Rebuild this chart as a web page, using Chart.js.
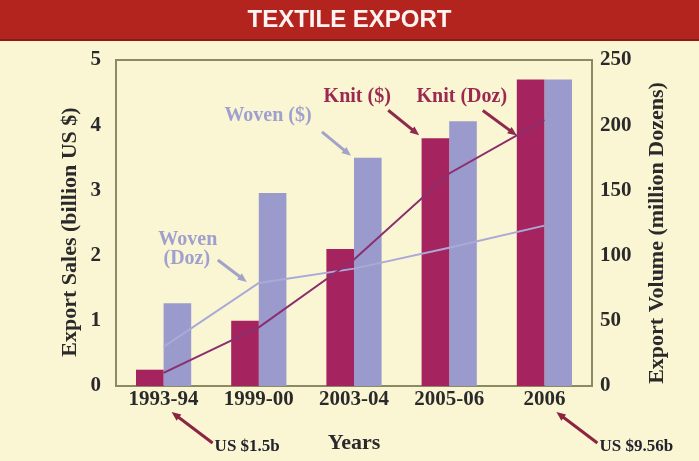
<!DOCTYPE html>
<html>
<head>
<meta charset="utf-8">
<script src="https://cdn.jsdelivr.net/npm/chart.js@4.4.1/dist/chart.umd.min.js"></script>
<style>
  html, body { margin: 0; padding: 0; background: #faf6d4; }
  #wrap { width: 699px; height: 461px; }
</style>
</head>
<body>
<div id="wrap"><canvas id="textile" width="699" height="461"></canvas></div>
<script>
// values
const years = ["1993-94", "1999-00", "2003-04", "2005-06", "2006"];
const knitSales = [0.25, 1.0, 2.1, 3.8, 4.7];      // billion US $
const wovenSales = [1.27, 2.96, 3.5, 4.06, 4.7];   // billion US $
const knitDozens = [10, 45, 97, 163, 204];         // million dozens
const wovenDozens = [30, 79, 90, 106, 123];        // million dozens
const salesTicks = [0, 1, 2, 3, 4, 5];
const volumeTicks = [0, 50, 100, 150, 200, 250];

const cream = "#faf6d4";
const knitColor = "#a5235f";
const wovenColor = "#9a9acc";
const serif = "'Liberation Serif', 'DejaVu Serif', serif";
const inkColor = "#2a2a2a";

function arrow(ctx, x1, y1, x2, y2, color, w) {
  const a = Math.atan2(y2 - y1, x2 - x1);
  const hl = 10;
  ctx.save();
  ctx.strokeStyle = color;
  ctx.fillStyle = color;
  ctx.lineWidth = w;
  ctx.beginPath();
  ctx.moveTo(x1, y1);
  ctx.lineTo(x2 - Math.cos(a) * hl * 0.7, y2 - Math.sin(a) * hl * 0.7);
  ctx.stroke();
  ctx.beginPath();
  ctx.moveTo(x2, y2);
  ctx.lineTo(x2 - hl * Math.cos(a - 0.4), y2 - hl * Math.sin(a - 0.4));
  ctx.lineTo(x2 - hl * Math.cos(a + 0.4), y2 - hl * Math.sin(a + 0.4));
  ctx.closePath();
  ctx.fill();
  ctx.restore();
}

function sideTitle(ctx, text, x, y) {
  ctx.save();
  ctx.translate(x, y);
  ctx.rotate(-Math.PI / 2);
  ctx.font = "bold 22px " + serif;
  ctx.fillStyle = inkColor;
  ctx.textAlign = "center";
  ctx.textBaseline = "middle";
  ctx.fillText(text, 0, 0);
  ctx.restore();
}

const decor = {
  id: "decor",
  beforeDraw(chart) {
    const ctx = chart.ctx;
    ctx.save();
    ctx.fillStyle = cream;
    ctx.fillRect(0, 0, chart.width, chart.height);
    // red header band
    ctx.fillStyle = "#b3241f";
    ctx.fillRect(0, 0, chart.width, 41);
    ctx.fillStyle = "#8a1b16";
    ctx.fillRect(0, 39, chart.width, 2);
    ctx.restore();
  },
  beforeDatasetsDraw(chart) {
    const {ctx, chartArea: a} = chart;
    ctx.save();
    ctx.strokeStyle = "#8c8a62";
    ctx.lineWidth = 2;
    ctx.strokeRect(a.left, a.top, a.right - a.left, a.bottom - a.top);
    ctx.restore();
  },
  afterDatasetsDraw(chart) {
    const ctx = chart.ctx;
    const x = chart.scales.x, yL = chart.scales.ySales, yR = chart.scales.yVolume;

    // both axis titles read bottom to top
    sideTitle(ctx, "Export Sales (billion US $)", 70, 232);
    sideTitle(ctx, "Export Volume (million Dozens)", 657, 233);

    ctx.save();
    ctx.textBaseline = "middle";
    ctx.textAlign = "center";
    ctx.font = "bold 20px " + serif;

    // Woven ($)
    let tx = x.getPixelForValue(2) - 3, ty = yL.getPixelForValue(wovenSales[2]) - 2;
    arrow(ctx, tx - 29, ty - 24, tx, ty, "#a3a3c8", 3);
    ctx.fillStyle = "#a0a0cf";
    ctx.fillText("Woven ($)", tx - 83, ty - 40);

    // Knit ($)
    tx = x.getPixelForValue(3) - 30; ty = yL.getPixelForValue(knitSales[3]) - 3;
    arrow(ctx, tx - 31, ty - 25, tx, ty, "#8e2a4a", 3);
    ctx.fillStyle = "#9b2950";
    ctx.fillText("Knit ($)", tx - 62, ty - 38);

    // Knit (Doz), pointing at the line between 2005-06 and 2006
    const k1x = x.getPixelForValue(3), k1y = yR.getPixelForValue(knitDozens[3]);
    const k2x = x.getPixelForValue(4), k2y = yR.getPixelForValue(knitDozens[4]);
    tx = k1x + (k2x - k1x) * 0.71; ty = k1y + (k2y - k1y) * 0.71;
    arrow(ctx, tx - 34, ty - 25, tx, ty, "#8e2a4a", 3);
    ctx.fillStyle = "#9b2950";
    ctx.fillText("Knit (Doz)", tx - 55, ty - 39);

    // Woven (Doz)
    tx = x.getPixelForValue(1) - 12; ty = yR.getPixelForValue(wovenDozens[1]) - 1;
    arrow(ctx, tx - 29, ty - 22, tx, ty, "#a3a3c8", 3);
    ctx.fillStyle = "#a0a0cf";
    ctx.fillText("Woven", tx - 59, ty - 42);
    ctx.fillText("(Doz)", tx - 60, ty - 23);

    // totals under the first and last years
    ctx.font = "bold 17px " + serif;
    ctx.textAlign = "left";
    ctx.fillStyle = "#23232e";
    tx = x.getPixelForValue(0) + 8; ty = 412;
    arrow(ctx, tx + 41, ty + 31, tx, ty, "#8c2440", 3);
    ctx.fillText("US $1.5b", tx + 43, ty + 35);
    tx = x.getPixelForValue(4) + 12;
    arrow(ctx, tx + 41, ty + 31, tx, ty, "#8c2440", 3);
    ctx.fillText("US $9.56b", tx + 43, ty + 35);
    ctx.restore();
  }
};

new Chart(document.getElementById("textile"), {
  type: "bar",
  data: {
    labels: years,
    datasets: [
      {
        label: "Knit (Doz)",
        type: "line",
        data: knitDozens,
        yAxisID: "yVolume",
        borderColor: "#8b2e6e",
        borderWidth: 2,
        pointRadius: 0,
        tension: 0,
        order: 0
      },
      {
        label: "Woven (Doz)",
        type: "line",
        data: wovenDozens,
        yAxisID: "yVolume",
        borderColor: "#aaaad8",
        borderWidth: 2,
        pointRadius: 0,
        tension: 0,
        order: 0
      },
      {
        label: "Knit ($)",
        data: knitSales,
        yAxisID: "ySales",
        backgroundColor: knitColor,
        borderWidth: 0,
        barPercentage: 1,
        categoryPercentage: 0.58,
        order: 1
      },
      {
        label: "Woven ($)",
        data: wovenSales,
        yAxisID: "ySales",
        backgroundColor: wovenColor,
        borderWidth: 0,
        barPercentage: 1,
        categoryPercentage: 0.58,
        order: 1
      }
    ]
  },
  options: {
    responsive: false,
    animation: false,
    layout: { padding: 0 },
    plugins: {
      legend: { display: false },
      tooltip: { enabled: false },
      title: {
        display: true,
        text: "TEXTILE EXPORT",
        color: "#fff4f2",
        font: { family: "'Liberation Sans', Arial, sans-serif", size: 24, weight: "bold" },
        padding: { top: 5.6, bottom: 25.6 }
      }
    },
    scales: {
      x: {
        grid: { display: false, drawTicks: false },
        border: { display: false },
        ticks: { color: inkColor, padding: 1, font: { family: serif, size: 21, weight: "bold" } },
        title: {
          display: true,
          text: "Years",
          color: inkColor,
          font: { family: serif, size: 22, weight: "bold" },
          padding: { top: 4, bottom: 4 }
        },
        afterFit(scale) { scale.height = 75; }
      },
      ySales: {
        position: "left",
        min: salesTicks[0],
        max: salesTicks[salesTicks.length - 1],
        grid: { display: false, drawTicks: false },
        border: { display: false },
        ticks: { stepSize: salesTicks[1] - salesTicks[0], color: inkColor, padding: 15,
                 font: { family: serif, size: 21, weight: "bold" } },
        afterFit(scale) { scale.width = 116; }
      },
      yVolume: {
        position: "right",
        min: volumeTicks[0],
        max: volumeTicks[volumeTicks.length - 1],
        grid: { display: false, drawTicks: false },
        border: { display: false },
        ticks: { stepSize: volumeTicks[1] - volumeTicks[0], color: inkColor, padding: 8,
                 font: { family: serif, size: 21, weight: "bold" } },
        afterFit(scale) { scale.width = 107; }
      }
    }
  },
  plugins: [decor]
});
</script>
</body>
</html>
